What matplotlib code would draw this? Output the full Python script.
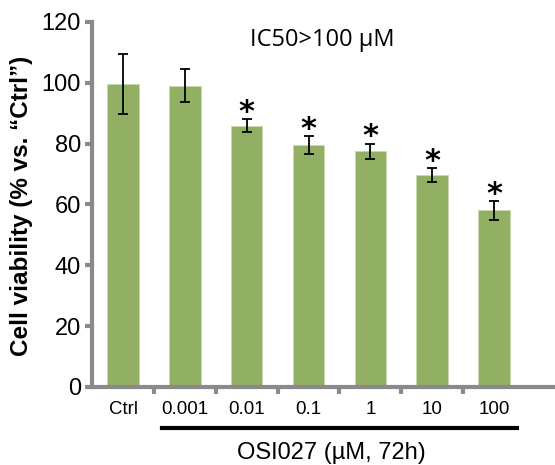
import matplotlib
matplotlib.use('Agg')
import matplotlib.pyplot as plt
import numpy as np

plt.rcParams['font.family'] = ['Liberation Sans', 'DejaVu Sans']

categories = ['Ctrl', '0.001', '0.01', '0.1', '1', '10', '100']
viability = [99.5, 99.0, 85.9, 79.5, 77.4, 69.6, 58.0]
errors = [9.8, 5.5, 2.0, 3.0, 2.6, 2.2, 3.0]
significant = [False, False, True, True, True, True, True]

green = '#92b064'
grey = '#8a8a8d'

fig = plt.figure(figsize=(5.55, 4.65), dpi=100)
ax = fig.add_axes([0.166, 0.168, 0.83, 0.785])

x = np.arange(len(categories))
ax.bar(x, viability, width=0.51, color=green, edgecolor='#c9dab0', linewidth=0.6, zorder=2)
ax.errorbar(x, viability, yerr=errors, fmt='none', ecolor='black', elinewidth=1.3,
            capsize=3.8, capthick=1.3, zorder=3)

for xi, v, e, s in zip(x, viability, errors, significant):
    if s:
        ax.text(xi, v + e - 2.5, '*', ha='center', va='bottom', fontsize=22,
                fontweight='bold', family='DejaVu Sans')

ax.set_xlim(-0.5, 6.95)
ax.set_ylim(0, 120)
ax.set_yticks(np.arange(0, 121, 20))
ax.tick_params(axis='y', labelsize=17, length=5, width=3, color=grey, direction='out', pad=3)

ax.set_xticks(x)
ax.set_xticklabels(categories, fontsize=13.5)
ax.tick_params(axis='x', which='major', length=0, pad=10)
ax.set_xticks(np.arange(0.5, 6.0, 1), minor=True)
ax.tick_params(axis='x', which='minor', length=5, width=3, color=grey, direction='out')

for side in ['top', 'right']:
    ax.spines[side].set_visible(False)
for side in ['left', 'bottom']:
    ax.spines[side].set_color(grey)
    ax.spines[side].set_linewidth(3)

ax.set_ylabel('Cell viability (% vs. \u201cCtrl\u201d)', fontsize=17.5, fontweight='bold')
ax.yaxis.set_label_coords(-0.128, 0.496)

fig.text(322 / 555, 1 - 40 / 465, 'IC50>100 \u00b5M', ha='center', va='center',
         fontsize=17, family=['Open Sans', 'DejaVu Sans'])

# bracket line under the treated groups
fig.add_artist(plt.Line2D([162 / 555, 517 / 555], [1 - 428 / 465, 1 - 428 / 465],
                          color='black', linewidth=3))
fig.text(331 / 555, 1 - 453 / 465, 'OSI027 (\u00b5M, 72h)', ha='center', va='center', fontsize=17)

fig.savefig('out.png', dpi=100)
